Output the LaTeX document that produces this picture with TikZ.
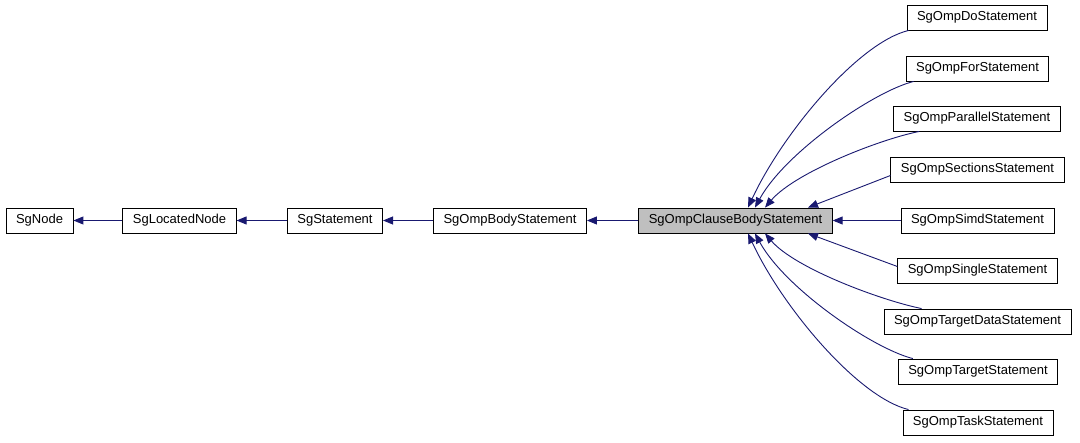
\documentclass[tikz,border=0pt]{standalone}
\usepackage{fontspec}
\setmainfont{Liberation Sans}
\usetikzlibrary{arrows.meta}

\definecolor{edgeblue}{RGB}{25,25,112}

\begin{document}
\begin{tikzpicture}[x=1pt,y=-1pt,
        cls/.style={draw=black,line width=0.9pt,minimum height=25pt,inner xsep=10pt,inner ysep=0pt,font=\fontsize{13}{15}\selectfont},
        inherit/.style={draw=edgeblue,line width=0.9pt,-{Triangle[length=10pt,width=8pt]}}]
    \useasboundingbox (0,0) rectangle (1080,443);
    % base chain
    \node[cls] (node) at (39.5,220.5) {SgNode};
    \node[cls] (located) at (179.5,220.5) {SgLocatedNode};
    \node[cls] (stmt) at (335,220.5) {SgStatement};
    \node[cls] (body) at (510,220.5) {SgOmpBodyStatement};
    \node[cls,fill=black!25] (clause) at (735.5,220.5) {SgOmpClauseBodyStatement};
    % derived classes
    \node[cls] (do) at (977,17.5) {SgOmpDoStatement};
    \node[cls] (for) at (977.5,68.5) {SgOmpForStatement};
    \node[cls] (par) at (977,118.5) {SgOmpParallelStatement};
    \node[cls] (sect) at (977.5,169.5) {SgOmpSectionsStatement};
    \node[cls] (simd) at (977.5,220.5) {SgOmpSimdStatement};
    \node[cls] (single) at (977.5,270.5) {SgOmpSingleStatement};
    \node[cls] (tdata) at (977.5,321.5) {SgOmpTargetDataStatement};
    \node[cls] (target) at (978,371.5) {SgOmpTargetStatement};
    \node[cls] (task) at (978,422.5) {SgOmpTaskStatement};

    \draw[inherit] (located) -- (node);
    \draw[inherit] (stmt) -- (located);
    \draw[inherit] (body) -- (stmt);
    \draw[inherit] (clause) -- (body);

    \draw[inherit] ([xshift=2pt]do.south west) .. controls +(-50,12) and +(35,-75) .. ([xshift=12.5pt]clause.north);
    \draw[inherit] ([xshift=8pt]for.south west) .. controls +(-40,10) and +(30,-55) .. ([xshift=19.5pt]clause.north);
    \draw[inherit] ([xshift=26pt]par.south west) .. controls +(-40,8) and +(30,-35) .. ([xshift=29.5pt]clause.north);
    \draw[inherit] ([yshift=-6pt]sect.west) -- ([xshift=72.5pt]clause.north);
    \draw[inherit] (simd) -- (clause);
    \draw[inherit] ([yshift=4pt]single.west) -- ([xshift=72.5pt]clause.south);
    \draw[inherit] ([xshift=38pt]tdata.north west) .. controls +(-40,-8) and +(30,35) .. ([xshift=29.5pt]clause.south);
    \draw[inherit] ([xshift=15pt]target.north west) .. controls +(-40,-10) and +(30,55) .. ([xshift=19.5pt]clause.south);
    \draw[inherit] ([xshift=6pt]task.north west) .. controls +(-50,-12) and +(35,75) .. ([xshift=12.5pt]clause.south);
\end{tikzpicture}
\end{document}
